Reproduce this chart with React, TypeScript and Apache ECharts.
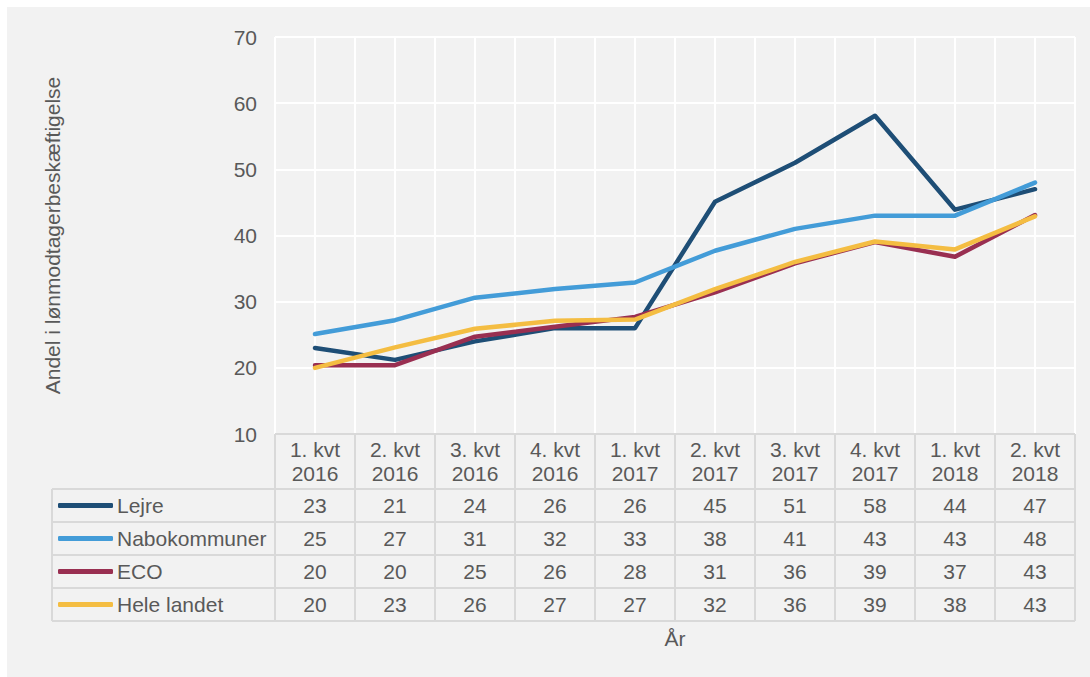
import React, { useEffect, useRef } from "react";
import * as echarts from "echarts";

const categories = [
  "1. kvt\n2016", "2. kvt\n2016", "3. kvt\n2016", "4. kvt\n2016",
  "1. kvt\n2017", "2. kvt\n2017", "3. kvt\n2017", "4. kvt\n2017",
  "1. kvt\n2018", "2. kvt\n2018",
];
const seriesNames = ["Lejre", "Nabokommuner", "ECO", "Hele landet"];
const lejre = [23, 21.2, 24, 26, 26, 45.1, 51, 58.1, 43.9, 47];
const nabokommuner = [25.1, 27.2, 30.6, 31.9, 32.9, 37.7, 41, 43, 43, 48];
const eco = [20.4, 20.4, 24.7, 26.2, 27.7, 31.4, 35.8, 39, 36.8, 43.1];
const heleLandet = [20, 23.1, 25.9, 27.1, 27.3, 31.9, 36, 39.1, 37.9, 42.9];
const colors = ["#1e4e76", "#439cd8", "#992f51", "#f4bd42"];
const yTicks = { min: 10, max: 70, interval: 10 };
const yTitle = "Andel i lønmodtagerbeskæftigelse";
const xTitle = "År";

const FONT = "'Liberation Sans', Arial, sans-serif";
const TEXT = "#595959";
const BORDER = "#d9d9d9";
const FS = 21;

export default function App() {
  const ref = useRef<HTMLDivElement>(null);
  useEffect(() => {
    if (!ref.current) return;
    const chart = echarts.init(ref.current, null, { renderer: "svg" });
    const data = [lejre, nabokommuner, eco, heleLandet];
    const gridBottomY = 427; // container coords
    const rowEdges = [482, 515, 548, 581, 614];
    const rowCenters = rowEdges.slice(0, 4).map((y, i) => (y + rowEdges[i + 1]) / 2);

    const rowAxes = data.map((arr, i) => ({
      type: "category",
      gridIndex: 0,
      position: "bottom",
      offset: rowCenters[i] - gridBottomY,
      data: arr.map((v) => String(Math.round(v))),
      axisLine: { show: false },
      axisTick: { show: false },
      splitLine: { show: false },
      axisLabel: {
        interval: 0,
        margin: 0,
        verticalAlign: "middle",
        fontSize: FS,
        color: TEXT,
        fontFamily: FONT,
      },
    }));

    const option: any = {
      animation: false,
      backgroundColor: "#f2f2f2",
      textStyle: { fontFamily: FONT },
      grid: { left: 268, right: 15, top: 30, bottom: 243 },
      xAxis: [
        {
          type: "category",
          data: categories,
          boundaryGap: true,
          position: "bottom",
          name: xTitle,
          nameLocation: "middle",
          nameGap: 204,
          nameTextStyle: { fontSize: FS, color: TEXT, fontFamily: FONT, verticalAlign: "middle" },
          axisLine: { show: false },
          axisTick: { show: false },
          splitLine: { show: false },
          axisLabel: {
            interval: 0,
            margin: 27.5,
            verticalAlign: "middle",
            lineHeight: 24,
            fontSize: FS,
            color: TEXT,
            fontFamily: FONT,
          },
        },
        ...rowAxes,
        {
          type: "value",
          gridIndex: 0,
          position: "top",
          min: 0,
          max: 20,
          interval: 1,
          axisLine: { show: false },
          axisTick: { show: false },
          axisLabel: { show: false },
          splitLine: { show: true, lineStyle: { color: "#ffffff", width: 2 } },
        },
      ],
      yAxis: {
        type: "value",
        min: yTicks.min,
        max: yTicks.max,
        interval: yTicks.interval,
        name: yTitle,
        nameLocation: "middle",
        nameGap: 212,
        nameRotate: 90,
        nameTextStyle: { fontSize: 21, color: TEXT, fontFamily: FONT },
        axisLine: { show: false },
        axisTick: { show: false },
        axisLabel: { margin: 18, fontSize: FS, color: TEXT, fontFamily: FONT },
        splitLine: { show: true, lineStyle: { color: "#ffffff", width: 2 } },
      },
      legend: seriesNames.map((n, i) => ({
        data: [n],
        left: 51,
        top: rowCenters[i] - 12,
        padding: 0,
        orient: "vertical",
        selectedMode: false,
        icon: "roundRect",
        itemWidth: 55,
        itemHeight: 5,
        itemGap: 0,
        textStyle: { fontSize: FS, color: TEXT, fontFamily: FONT, lineHeight: 24, padding: [0, 0, 0, -1] },
      })),
      series: data.map((arr, i) => ({
        name: seriesNames[i],
        type: "line",
        xAxisIndex: 0,
        yAxisIndex: 0,
        data: arr,
        symbol: "none",
        showSymbol: false,
        color: colors[i],
        lineStyle: { width: 4.5, color: colors[i], cap: "round", join: "round" },
        z: 3 + i,
      })),
    };
    chart.setOption(option);

    const xs: number[] = [];
    for (let k = 0; k <= categories.length; k++) {
      xs.push(chart.convertToPixel({ xAxisIndex: 5 }, 2 * k) as number);
    }
    const left = 45;
    const lines: any[] = [];
    const ln = (x1: number, y1: number, x2: number, y2: number) =>
      lines.push({
        type: "line",
        shape: { x1, y1, x2, y2 },
        style: { stroke: BORDER, lineWidth: 2 },
        silent: true,
        z: 1,
      });
    ln(xs[0], gridBottomY, xs[xs.length - 1], gridBottomY);
    rowEdges.forEach((y) => ln(left, y, xs[xs.length - 1], y));
    ln(left, rowEdges[0], left, rowEdges[rowEdges.length - 1]);
    xs.forEach((x) => ln(x, gridBottomY, x, rowEdges[rowEdges.length - 1]));
    chart.setOption({ graphic: lines });

    return () => chart.dispose();
  }, []);
  return (
    <div
      ref={ref}
      style={{ position: "fixed", left: 7, top: 7, width: 1083, height: 670 }}
    />
  );
}
